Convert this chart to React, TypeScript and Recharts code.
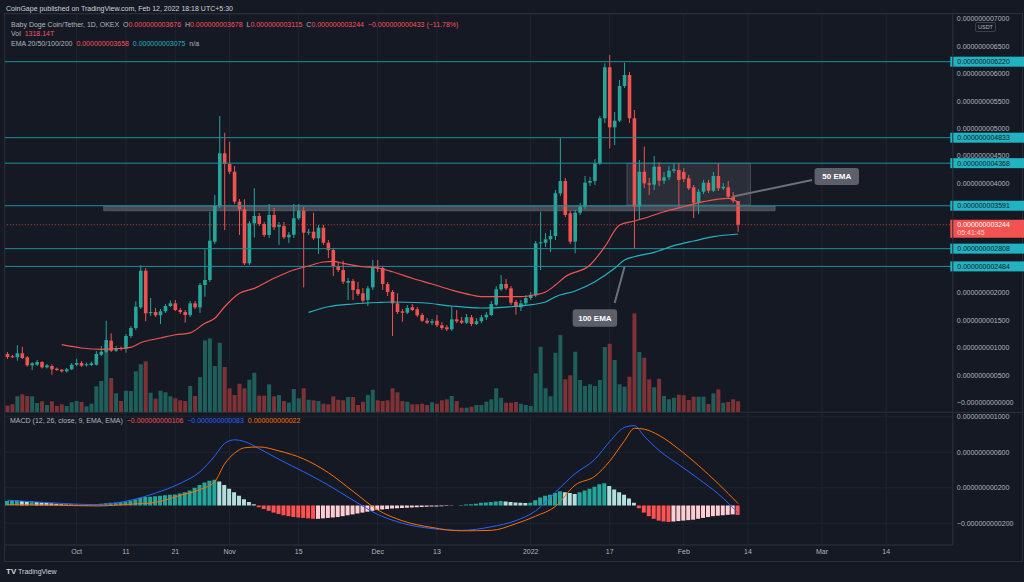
import React from "react";
import {
  ComposedChart,
  Bar,
  Line,
  XAxis,
  YAxis,
  CartesianGrid,
  ReferenceLine,
  ReferenceArea,
  Cell,
} from "recharts";

// prices are in units of 1e-12 USDT (3244 -> 0.000000003244)
const opens = [
  885, 845, 825, 898, 825, 679, 690, 739, 642, 666, 617, 599, 569, 606, 690, 721, 679, 684, 690, 872,
  927, 1128, 945, 995, 982, 1214, 1360, 1737, 2405, 1640, 1652, 1591, 1664, 1761, 1810, 1688, 1652, 1597, 1810, 1737,
  2144, 2236, 2935, 3586, 4548, 4353, 4212, 3665, 3526, 2540, 3270, 3404, 3258, 3057, 3422, 3208, 3221, 3015, 3062, 3362,
  3500, 3099, 3117, 2997, 3190, 2916, 2783, 2491, 2418, 2186, 2217, 2066, 1993, 1871, 2102, 2467, 2455, 2163, 2017, 1810,
  1664, 1639, 1737, 1701, 1597, 1493, 1456, 1493, 1409, 1372, 1336, 1518, 1493, 1456, 1555, 1433, 1482, 1555, 1597, 1785,
  2066, 2163, 2084, 1834, 1737, 1810, 1907, 1956, 2905, 2916, 2978, 3039, 3818, 4042, 3453, 2935, 3464, 3573, 4011, 4042,
  4365, 5187, 6117, 5022, 5143, 5776, 5977, 5187, 3573, 4212, 4000, 3975, 4303, 4048, 4110, 4230, 4243, 4206, 4092, 3927,
  3646, 3847, 4011, 3865, 4134, 3909, 3927, 3756, 3676,
];
const highs = [
  922, 870, 1044, 1018, 849, 739, 776, 757, 703, 694, 639, 611, 630, 721, 799, 757, 730, 748, 940, 1031,
  1493, 1263, 1031, 1022, 1250, 1396, 1847, 2504, 2455, 1907, 1725, 1706, 1798, 1862, 1871, 1725, 1688, 1852, 1852, 2181,
  2796, 3482, 3787, 5229, 4924, 4760, 4316, 3714, 3708, 3312, 3909, 3458, 3294, 3623, 3550, 3294, 3294, 3112, 3623, 3623,
  3568, 3166, 3464, 3239, 3239, 2966, 2820, 2564, 2588, 2272, 2254, 2199, 2090, 2126, 2601, 2601, 2491, 2199, 2053, 1993,
  1706, 1779, 1798, 1743, 1633, 1542, 1524, 1597, 1469, 1414, 1761, 1688, 1560, 1615, 1597, 1542, 1597, 1652, 1852, 2126,
  2327, 2254, 2126, 1871, 1871, 1962, 2017, 2947, 3482, 3093, 3148, 3878, 4822, 4097, 3495, 3513, 3641, 4134, 4115, 4444,
  5229, 6190, 6342, 5302, 5886, 6201, 6032, 5338, 4426, 4668, 4097, 4499, 4389, 4207, 4316, 4371, 4371, 4279, 4152, 3969,
  3896, 4061, 4061, 4206, 4365, 4006, 4042, 3842, 3678,
];
const lows = [
  794, 810, 763, 794, 657, 593, 666, 620, 620, 507, 575, 548, 548, 593, 666, 648, 657, 666, 675, 849,
  903, 922, 922, 949, 909, 1177, 1323, 1706, 1482, 1579, 1560, 1433, 1633, 1743, 1670, 1615, 1456, 1560, 1706, 1633,
  1931, 2199, 2893, 3550, 3148, 4170, 3623, 3057, 2509, 2509, 3015, 3221, 3020, 3002, 3148, 2874, 2984, 2911, 3002, 3331,
  2102, 3057, 2966, 2710, 2874, 2637, 2308, 2381, 2163, 1871, 1871, 1944, 1816, 1761, 2053, 2382, 2053, 1944, 1214, 1615,
  1475, 1615, 1670, 1560, 1469, 1433, 1414, 1378, 1323, 1305, 1305, 1451, 1433, 1433, 1396, 1414, 1451, 1506, 1579, 1761,
  2035, 2053, 1779, 1602, 1670, 1779, 1871, 1925, 2418, 2838, 2747, 2966, 3769, 3386, 2893, 2723, 3422, 3531, 3951, 3969,
  4334, 5101, 4639, 4699, 5119, 5740, 5101, 2814, 3331, 3915, 3787, 3878, 3951, 3988, 4061, 4188, 3550, 4024, 3878, 3367,
  3440, 3805, 3823, 3842, 3860, 3878, 3714, 3641, 3115,
];
const closes = [
  830, 830, 898, 812, 679, 715, 739, 642, 679, 606, 593, 569, 606, 690, 721, 672, 697, 715, 885, 927,
  1141, 945, 995, 976, 1214, 1360, 1748, 2405, 1628, 1650, 1591, 1664, 1761, 1810, 1688, 1652, 1597, 1810, 1737, 2144,
  2236, 2953, 3586, 4548, 4353, 4212, 3665, 3526, 2540, 3270, 3404, 3258, 3057, 3422, 3197, 3239, 3015, 3062, 3362, 3500,
  3099, 3117, 2997, 3190, 2916, 2783, 2491, 2418, 2205, 2217, 2053, 1980, 1858, 2084, 2467, 2442, 2163, 2017, 1810, 1652,
  1639, 1725, 1688, 1591, 1493, 1456, 1482, 1409, 1360, 1336, 1518, 1482, 1456, 1555, 1433, 1482, 1555, 1602, 1798, 2066,
  2163, 2084, 1821, 1748, 1810, 1907, 1967, 2905, 2924, 2978, 3039, 3818, 4042, 3422, 2935, 3464, 3573, 4011, 4042, 4365,
  5187, 6117, 5022, 5143, 5776, 5977, 5187, 3573, 4212, 4000, 3975, 4303, 4048, 4110, 4230, 4256, 4061, 4079, 3909, 3646,
  3847, 4011, 3865, 4134, 3909, 3938, 3756, 3683, 3244,
];
// volume in T
const volumes = [
  775, 947, 1931, 2177, 1968, 1931, 1107, 1316, 861, 1316, 738, 947, 738, 1193, 1353, 1230, 701, 1021, 3161, 3813,
  8327, 4182, 2300, 1353, 2620, 2583, 5006, 5867, 6236, 2374, 1636, 2620, 2423, 1931, 1685, 1439, 1353, 3198, 1968, 4305,
  8819, 9065, 5658, 8524, 5535, 2915, 2091, 3481, 2915, 3973, 4834, 2005, 2005, 3407, 1931, 2091, 1353, 1144, 2829, 1685,
  2915, 1513, 1439, 1353, 1021, 947, 1931, 1513, 1439, 1845, 1845, 861, 1267, 2091, 2743, 1439, 1353, 1439, 2915, 2423,
  1353, 1267, 947, 947, 1021, 861, 1193, 1021, 1439, 1562, 1968, 1353, 529, 529, 652, 861, 861, 1267, 1562, 2915,
  1759, 1144, 1144, 1230, 1021, 861, 738, 4760, 8032, 2915, 1931, 7294, 9471, 4022, 4514, 7417, 3936, 3198, 3407, 3198,
  3936, 7995, 8401, 6396, 3407, 3112, 4342, 12140, 7380, 6679, 4022, 3038, 4096, 1968, 1562, 1759, 2128, 2054, 1476, 1882,
  1882, 1882, 984, 2300, 2792, 1144, 1230, 1562, 1318,
];

// EMA readings [day index, value]
const ema50Points = [
  [11, 1055], [15, 995], [19, 971], [22, 982], [25, 1007], [27, 1091], [31, 1177], [34, 1237], [37, 1272],
  [40, 1445], [42, 1537], [44, 1748], [47, 1993], [50, 2084], [54, 2267], [58, 2418], [61, 2491], [64, 2564],
  [66, 2577], [68, 2540], [72, 2478], [75, 2455], [78, 2387], [82, 2267], [86, 2163], [90, 2053], [94, 1962],
  [96, 1931], [100, 1931], [104, 1931], [107, 1967], [109, 2017], [111, 2144], [113, 2296], [118, 2509],
  [121, 2843], [124, 3239], [127, 3312], [129, 3362], [133, 3482], [137, 3573], [141, 3665], [146, 3727], [148, 3658],
];
const ema100Points = [
  [61, 1646], [65, 1748], [70, 1798], [75, 1825], [78, 1834], [84, 1821], [90, 1761], [96, 1725], [102, 1748],
  [105, 1774], [109, 1834], [111, 1931], [115, 2035], [119, 2205], [123, 2449], [125, 2601], [127, 2661],
  [131, 2741], [135, 2862], [139, 2947], [143, 3026], [148, 3075],
];

// MACD (12, 26, 9)
const macdHist = [
  50, 55, 55, 50, 45, 45, 40, 35, 30,
  25, 20, 15, 12, 10, 8, 6, 5, 8, 15,
  20, 25, 30, 35, 40, 45, 55, 70, 85, 95, 100, 105, 110, 115, 120, 125,
  135, 150, 170, 200, 230, 260, 280, 290, 270, 230, 190,
  150, 110, 70, 40, 15,
  -20, -40, -60, -80, -95, -110, -120, -130, -135, -140, -145, -150, -150, -145, -140, -135, -130, -120, -110, -100, -90, -80, -70, -60, -50,
  -45, -40, -35, -30, -28, -25, -22, -20, -18, -15, -12, -10, -8, -5, -3, 0, 5,
  10, 15, 20, 30, 35, 40, 45, 50, 45, 40, 35, 30, 28, 30,
  60, 90, 110, 120, 140, 160, 150, 140, 130, 150, 170, 190, 210, 240, 250, 220,
  180, 150, 120, 80, 30,
  -30, -80, -120, -150, -170, -180, -185, -180, -175, -170, -165, -160, -150, -140, -130, -120, -115, -110, -105, -100, -106,
];
const macdPoints = [
  [0, 60], [9, 30], [18, 10], [25, 60], [30, 140], [35, 250], [39, 380], [42, 560], [44, 700], [46, 740],
  [48, 720], [51, 640], [55, 520], [60, 380], [65, 230], [70, 60], [75, -100], [80, -200], [86, -260],
  [92, -280], [98, -240], [103, -170], [107, -60], [111, 150], [115, 360], [119, 520], [122, 720], [125, 880],
  [127, 900], [129, 780], [132, 620], [136, 460], [140, 300], [144, 130], [148, -83],
];
const signalPoints = [
  [0, 10], [9, 5], [18, -5], [25, 15], [30, 35], [35, 115], [39, 180], [42, 270], [44, 470], [46, 590],
  [48, 650], [51, 660], [55, 615], [60, 525], [65, 370], [70, 160], [75, -50], [80, -172], [86, -248],
  [92, -285], [98, -280], [103, -205], [107, -120], [111, -10], [115, 230], [119, 330], [122, 500], [125, 730],
  [127, 870], [129, 860], [132, 790], [136, 635], [140, 450], [144, 245], [148, 22],
];

const levels = [6220, 4833, 4368, 3591, 2808, 2484];
const lastPrice = 3244;
const priceTicks = [0, 500, 1000, 1500, 2000, 4000, 4500, 5000, 5500, 6000, 6500, 7000];
const priceGridTicks = [0, 500, 1000, 1500, 2000, 2500, 3000, 3500, 4000, 4500, 5000, 5500, 6000, 6500, 7000];
const macdTicks = [-200, 200, 600, 1000];
// day index counted from Sep 17, 2021
const dateTicks = [14, 24, 34, 45, 59, 75, 87, 106, 122, 137, 150, 165, 178];
const dateLabels = ["Oct", "11", "21", "Nov", "15", "Dec", "13", "2022", "17", "Feb", "14", "Mar", "14"];
const TOTAL_DAYS = 192;

const UP = "#26a69a";
const DOWN = "#ef5350";
const BG = "#151924";
const GRID = "#1f2430";
const AXIS_TEXT = "#b2b5be";
const FONT = "'Liberation Sans', Arial, sans-serif";
const LEVEL = "#1d8f9d";
const LEVEL_BOX = "#22b3c3";

const PRICE_DOMAIN = [-173, 7090];
const VOL_DOMAIN = [0, 49000];
const MACD_DOMAIN = [-445, 1053.5];
const AXIS_W = 71.2;
const LEFT = 5;

const rows: any[] = Array.from({ length: TOTAL_DAYS }, (_, i) => {
  const has = i < opens.length;
  return {
    i,
    open: has ? opens[i] : null,
    high: has ? highs[i] : null,
    low: has ? lows[i] : null,
    close: has ? closes[i] : null,
    range: has ? [lows[i], highs[i]] : null,
    vol: has ? volumes[i] : null,
    hist: has ? macdHist[i] : null,
    ema50: null,
    ema100: null,
    macd: null,
    signal: null,
  };
});
ema50Points.forEach(([i, v]) => (rows[i].ema50 = v));
ema100Points.forEach(([i, v]) => (rows[i].ema100 = v));
macdPoints.forEach(([i, v]) => (rows[i].macd = v));
signalPoints.forEach(([i, v]) => (rows[i].signal = v));

const fmt = (v: number) => {
  const s = (Math.abs(v) / 1e12).toFixed(12);
  return v < 0 || Object.is(v, -0) ? "\u2212" + s : s;
};
const fmtPrice = (v: number) => (v === 0 ? "\u22120.000000000000" : fmt(v));

function Candle(props: any) {
  const { x, y, width, height, payload } = props;
  if (!payload || payload.open == null) return null;
  const { open, close, high, low } = payload;
  const color = close >= open ? UP : DOWN;
  const top = Math.min(y, y + height);
  const h = Math.abs(height);
  const k = h / (high - low || 1);
  const yO = top + (high - open) * k;
  const yC = top + (high - close) * k;
  const cx = x + width / 2;
  const bt = Math.min(yO, yC);
  const bh = Math.max(Math.abs(yO - yC), 1);
  return (
    <g>
      <line x1={cx} x2={cx} y1={top} y2={top + h} stroke={color} strokeWidth={1} />
      <rect x={cx - 1.8} y={bt} width={3.6} height={bh} fill={color} />
    </g>
  );
}

function VolBar(props: any) {
  const { x, y, width, height, payload } = props;
  if (!payload || payload.vol == null) return null;
  const color = payload.close >= payload.open ? "#1f5f5b" : "#7d3236";
  const cx = x + width / 2;
  return <rect x={cx - 2} y={Math.min(y, y + height)} width={4} height={Math.abs(height)} fill={color} />;
}

const levelLabel = (value: number, fill: string, textFill: string) => (props: any) => {
  const vb = props.viewBox;
  if (!vb) return null;
  const x = vb.x + vb.width - 2.5;
  return (
    <g>
      <rect x={x} y={vb.y - 5} width={74} height={10} fill={fill} />
      <text x={x + 7} y={vb.y + 2.6} fontSize={7} fill={textFill} fontFamily={FONT}>
        {fmtPrice(value)}
      </text>
    </g>
  );
};

const lastLabel = (props: any) => {
  const vb = props.viewBox;
  if (!vb) return null;
  const x = vb.x + vb.width - 2.5;
  return (
    <g>
      <rect x={x} y={vb.y - 5} width={74} height={18} fill="#f05350" />
      <text x={x + 7} y={vb.y + 2.6} fontSize={7} fill="#ffffff" fontFamily={FONT}>
        {fmtPrice(lastPrice)}
      </text>
      <text x={x + 7} y={vb.y + 10.6} fontSize={7} fill="#ffd5d5" fontFamily={FONT}>
        05:41:45
      </text>
    </g>
  );
};

const noteBox = (text: string) => (p: any) => (
  <g>
    <rect x={p.x} y={p.y} width={p.width} height={p.height} rx={3} fill="#5d606b" />
    <text
      x={p.x + p.width / 2}
      y={p.y + p.height / 2 + 2.8}
      textAnchor="middle"
      fontSize={8}
      fontWeight={700}
      fill="#ffffff"
      fontFamily={FONT}
    >
      {text}
    </text>
  </g>
);

const histColor = (i: number) => {
  const h = macdHist[i];
  const prev = i > 0 ? macdHist[i - 1] : h;
  if (h >= 0) return h >= prev ? "#26a69a" : "#b2dfdb";
  return h < prev ? "#ff5252" : "#ffcdd2";
};

function Legend() {
  const g = { color: AXIS_TEXT };
  const r = { color: "#f7525f" };
  return (
    <>
      <div style={{ position: "absolute", left: 6, top: 5, fontSize: 7, lineHeight: "8px", color: "#d1d4dc" }}>
        CoinGape published on TradingView.com, Feb 12, 2022 18:18 UTC+5:30
      </div>
      <div style={{ position: "absolute", left: 11, top: 21, fontSize: 7, lineHeight: "8px", whiteSpace: "pre" }}>
        <span style={g}>Baby Doge Coin/Tether, 1D, OKEX  O</span>
        <span style={r}>0.000000003676</span>
        <span style={g}>  H</span>
        <span style={r}>0.000000003678</span>
        <span style={g}>  L</span>
        <span style={r}>0.000000003115</span>
        <span style={g}>  C</span>
        <span style={r}>0.000000003244  −0.000000000433 (−11.78%)</span>
      </div>
      <div style={{ position: "absolute", left: 11, top: 29.5, fontSize: 7, lineHeight: "8px", whiteSpace: "pre" }}>
        <span style={g}>Vol  </span>
        <span style={r}>1318.14T</span>
      </div>
      <div style={{ position: "absolute", left: 11, top: 40, fontSize: 7, lineHeight: "8px", whiteSpace: "pre" }}>
        <span style={g}>EMA 20/50/100/200  </span>
        <span style={r}>0.000000003658  </span>
        <span style={{ color: "#22b3c3" }}>0.000000003075  </span>
        <span style={g}>n/a</span>
      </div>
      <div style={{ position: "absolute", left: 10, top: 417, fontSize: 7, lineHeight: "8px", whiteSpace: "pre" }}>
        <span style={g}>MACD (12, 26, close, 9, EMA, EMA)  </span>
        <span style={r}>−0.000000000106  </span>
        <span style={{ color: "#2962ff" }}>−0.000000000083  </span>
        <span style={{ color: "#ff6d00" }}>0.000000000022</span>
      </div>
      <div
        style={{
          position: "absolute",
          left: 975,
          top: 22,
          width: 19,
          height: 8,
          border: "1px solid #3a3e4a",
          borderRadius: 2,
          fontSize: 5.5,
          lineHeight: "8px",
          textAlign: "center",
          color: AXIS_TEXT,
        }}
      >
        USDT
      </div>
      <div style={{ position: "absolute", left: 6, top: 568, fontSize: 7, lineHeight: "8px", color: "#d1d4dc" }}>
        <b style={{ fontSize: 8 }}>TV</b> TradingView
      </div>
    </>
  );
}

export default function App() {
  return (
    <div
      style={{
        position: "relative",
        width: 1024,
        height: 582,
        background: BG,
        overflow: "hidden",
        fontFamily: FONT,
      }}
    >
      <style>{"body{margin:0;background:" + BG + ";}"}</style>
      {/* chart frame */}
      <div style={{ position: "absolute", left: 4, top: 13, width: 1019, height: 549, border: "1px solid #2a2e39", boxSizing: "border-box" }} />
      <div style={{ position: "absolute", left: 4, top: 412, width: 1019, height: 1, background: "#2a2e39" }} />

      {/* grid + volume (bottom layer) */}
      <div style={{ position: "absolute", left: 0, top: 14 }}>
        <ComposedChart width={1024} height={398} data={rows} margin={{ top: 0, right: AXIS_W, bottom: 0, left: LEFT }}>
          <XAxis dataKey="i" type="category" ticks={dateTicks} hide />
          <YAxis yAxisId="price" hide domain={PRICE_DOMAIN} ticks={priceGridTicks} />
          <YAxis yAxisId="vol" hide domain={VOL_DOMAIN} />
          <CartesianGrid yAxisId="price" stroke={GRID} strokeWidth={1} />
          <Bar yAxisId="vol" dataKey="vol" shape={VolBar} isAnimationActive={false} />
        </ComposedChart>
      </div>

      {/* price pane */}
      <div style={{ position: "absolute", left: 0, top: 14 }}>
        <ComposedChart width={1024} height={398} data={rows} margin={{ top: 0, right: 0, bottom: 0, left: LEFT }}>
          <XAxis dataKey="i" type="category" hide />
          <YAxis
            orientation="right"
            width={AXIS_W}
            domain={PRICE_DOMAIN}
            ticks={priceTicks}
            tickFormatter={fmtPrice}
            tick={{ fill: AXIS_TEXT, fontSize: 7, fontFamily: FONT, textAnchor: "start" }}
            tickLine={false}
            tickSize={0}
            tickMargin={4}
            axisLine={{ stroke: "#2a2e39" }}
            allowDataOverflow
          />
          <ReferenceArea x1={20} x2={155} y1={3500} y2={3586} fill="#50535e" fillOpacity={0.85} stroke="#6a6d78" strokeOpacity={0.6} />
          <ReferenceArea x1={126} x2={150} y1={3604} y2={4365} fill="#787b86" fillOpacity={0.22} stroke="#787b86" strokeOpacity={0.5} />
          {levels.map((lv) => (
            <ReferenceLine key={lv} y={lv} stroke={LEVEL} strokeWidth={1} label={levelLabel(lv, LEVEL_BOX, "#131722")} />
          ))}
          <ReferenceLine y={lastPrice} stroke="#ef5350" strokeDasharray="1 2" strokeOpacity={0.8} label={lastLabel} />
          <Bar dataKey="range" shape={Candle} isAnimationActive={false} />
          <Line dataKey="ema50" type="monotone" stroke="#f05350" strokeWidth={1.2} dot={false} connectNulls isAnimationActive={false} />
          <Line dataKey="ema100" type="monotone" stroke="#22b3c3" strokeWidth={1.2} dot={false} connectNulls isAnimationActive={false} />
          <ReferenceLine segment={[{ x: 147, y: 3760 }, { x: 163, y: 4061 }]} stroke="#6d707b" strokeWidth={2} />
          <ReferenceLine segment={[{ x: 123, y: 1816 }, { x: 125, y: 2478 }]} stroke="#6d707b" strokeWidth={2} />
          <ReferenceArea x1={164} x2={172} y1={3969} y2={4280} shape={noteBox("50 EMA")} />
          <ReferenceArea x1={115} x2={123} y1={1383} y2={1701} shape={noteBox("100 EMA")} />
        </ComposedChart>
      </div>

      {/* MACD pane + time axis */}
      <div style={{ position: "absolute", left: 0, top: 412 }}>
        <ComposedChart width={1024} height={150} data={rows} margin={{ top: 0, right: 0, bottom: 0, left: LEFT }}>
          <XAxis
            dataKey="i"
            type="category"
            ticks={dateTicks}
            interval={0}
            tickFormatter={(v: number) => dateLabels[dateTicks.indexOf(v)] ?? ""}
            tick={{ fill: AXIS_TEXT, fontSize: 7, fontFamily: FONT }}
            tickLine={false}
            tickSize={0}
            tickMargin={4}
            height={17}
            axisLine={{ stroke: "#2a2e39" }}
          />
          <YAxis
            orientation="right"
            width={AXIS_W}
            domain={MACD_DOMAIN}
            ticks={macdTicks}
            tickFormatter={fmt}
            tick={{ fill: AXIS_TEXT, fontSize: 7, fontFamily: FONT, textAnchor: "start" }}
            tickLine={false}
            tickSize={0}
            tickMargin={4}
            axisLine={{ stroke: "#2a2e39" }}
            allowDataOverflow
          />
          <CartesianGrid stroke={GRID} strokeWidth={1} />
          <Bar dataKey="hist" barSize={4} isAnimationActive={false}>
            {rows.map((r, idx) => (
              <Cell key={idx} fill={r.hist == null ? "transparent" : histColor(idx)} />
            ))}
          </Bar>
          <Line dataKey="macd" type="monotone" stroke="#2962ff" strokeWidth={1} dot={false} connectNulls isAnimationActive={false} />
          <Line dataKey="signal" type="monotone" stroke="#ff6d00" strokeWidth={1} dot={false} connectNulls isAnimationActive={false} />
        </ComposedChart>
      </div>

      <Legend />
    </div>
  );
}
